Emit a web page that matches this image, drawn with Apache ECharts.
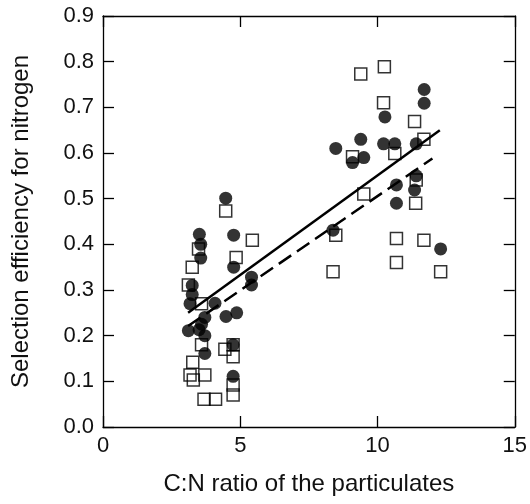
<!DOCTYPE html>
<html><head><meta charset="utf-8">
<script src="https://cdn.jsdelivr.net/npm/echarts@6/dist/echarts.min.js"></script>
<style>html,body{margin:0;padding:0;background:#fff}#c{width:530px;height:504px}</style>
</head><body><div id="c"></div>
<script>
// Filled circles
const circleX = [3.51,3.56,3.56,4.47,4.76,4.76,3.25,3.25,3.17,4.08,4.87,4.48,3.71,3.59,3.11,3.50,3.71,3.71,4.74,4.74,5.41,5.41,
  11.70,11.70,10.27,9.39,8.48,10.22,10.63,11.41,9.09,9.50,11.41,10.69,11.35,10.69,8.38,12.30];
const circleY = [0.422,0.400,0.370,0.501,0.420,0.350,0.310,0.290,0.270,0.271,0.250,0.242,0.240,0.225,0.211,0.213,0.200,0.161,0.180,0.111,0.328,0.311,
  0.739,0.709,0.679,0.630,0.610,0.620,0.620,0.620,0.579,0.590,0.550,0.530,0.519,0.490,0.431,0.390];
// Open squares
const squareX = [9.39,10.25,10.22,11.35,11.69,9.09,10.63,11.41,9.50,11.39,8.48,10.69,11.69,10.69,8.38,12.30,
  4.47,3.48,4.85,5.44,3.25,3.11,3.59,3.59,4.44,4.74,4.74,3.27,3.17,3.29,3.71,4.74,4.74,3.68,4.10];
const squareY = [0.773,0.789,0.710,0.669,0.630,0.592,0.599,0.541,0.510,0.490,0.420,0.413,0.409,0.360,0.340,0.340,
  0.473,0.390,0.371,0.409,0.350,0.311,0.270,0.180,0.170,0.180,0.154,0.142,0.114,0.103,0.114,0.092,0.070,0.061,0.061];
// Regression lines (end points)
const solidLineX = [3.1, 12.27];
const solidLineY = [0.25, 0.65];
const dashedLineX = [3.1, 12.0];
const dashedLineY = [0.221, 0.588];
// Axes
const xTicks = [0, 5, 10, 15];
const yTicks = [0.0, 0.1, 0.2, 0.3, 0.4, 0.5, 0.6, 0.7, 0.8, 0.9];
const xTitle = 'C:N ratio of the particulates';
const yTitle = 'Selection efficiency for nitrogen';

const pair = (xs, ys) => xs.map((x, i) => [x, ys[i]]);
const FONT = '"Liberation Sans", Arial, Helvetica, sans-serif';
const INK = '#000';
const TXT = '#111';

const chart = echarts.init(document.getElementById('c'), null, {renderer: 'canvas'});
const xMin = xTicks[0], xMax = xTicks[xTicks.length - 1], xInt = xTicks[1] - xTicks[0];
const yMin = yTicks[0], yMax = yTicks[yTicks.length - 1];
const yInt = +(yTicks[1] - yTicks[0]).toFixed(3);

const axisLine = {show: true, onZero: false, lineStyle: {color: INK, width: 1.3}};
const axisTick = {show: true, inside: true, length: 11, lineStyle: {color: INK, width: 1.3}};

chart.setOption({
  animation: false,
  backgroundColor: '#fff',
  grid: {left: 103, right: 15, top: 16, bottom: 77, containLabel: false},
  xAxis: [
    {type: 'value', min: xMin, max: xMax, interval: xInt, position: 'bottom',
     axisLine, axisTick, splitLine: {show: false},
     axisLabel: {fontSize: 22, color: TXT, fontFamily: FONT, margin: 8},
     name: xTitle, nameLocation: 'middle', nameGap: 45,
     nameTextStyle: {fontSize: 24, color: TXT, fontFamily: FONT}},
    {type: 'value', min: xMin, max: xMax, interval: xInt, position: 'top',
     axisLine, axisTick, splitLine: {show: false}, axisLabel: {show: false}}
  ],
  yAxis: [
    {type: 'value', min: yMin, max: yMax, interval: yInt, position: 'left',
     axisLine, axisTick, splitLine: {show: false},
     axisLabel: {fontSize: 22, color: TXT, fontFamily: FONT, margin: 9,
                 formatter: v => v.toFixed(1)},
     name: yTitle, nameLocation: 'middle', nameGap: 70,
     nameTextStyle: {fontSize: 24, color: TXT, fontFamily: FONT}},
    {type: 'value', min: yMin, max: yMax, interval: yInt, position: 'right',
     axisLine, axisTick, splitLine: {show: false}, axisLabel: {show: false}}
  ],
  series: [
    {type: 'scatter', data: pair(circleX, circleY), symbol: 'circle', symbolSize: 13,
     itemStyle: {color: INK}, z: 2},
    {type: 'scatter', data: pair(squareX, squareY), symbol: 'rect', symbolSize: 12,
     itemStyle: {color: 'rgba(0,0,0,0)', borderColor: INK, borderWidth: 1.5}, z: 3},
    {type: 'line', data: pair(solidLineX, solidLineY), symbol: 'none',
     lineStyle: {color: INK, width: 2.5, type: 'solid'}, z: 4},
    {type: 'line', data: pair(dashedLineX, dashedLineY), symbol: 'none',
     lineStyle: {color: INK, width: 2.5, type: [15, 7]}, z: 4}
  ]
});
</script>
</body></html>
